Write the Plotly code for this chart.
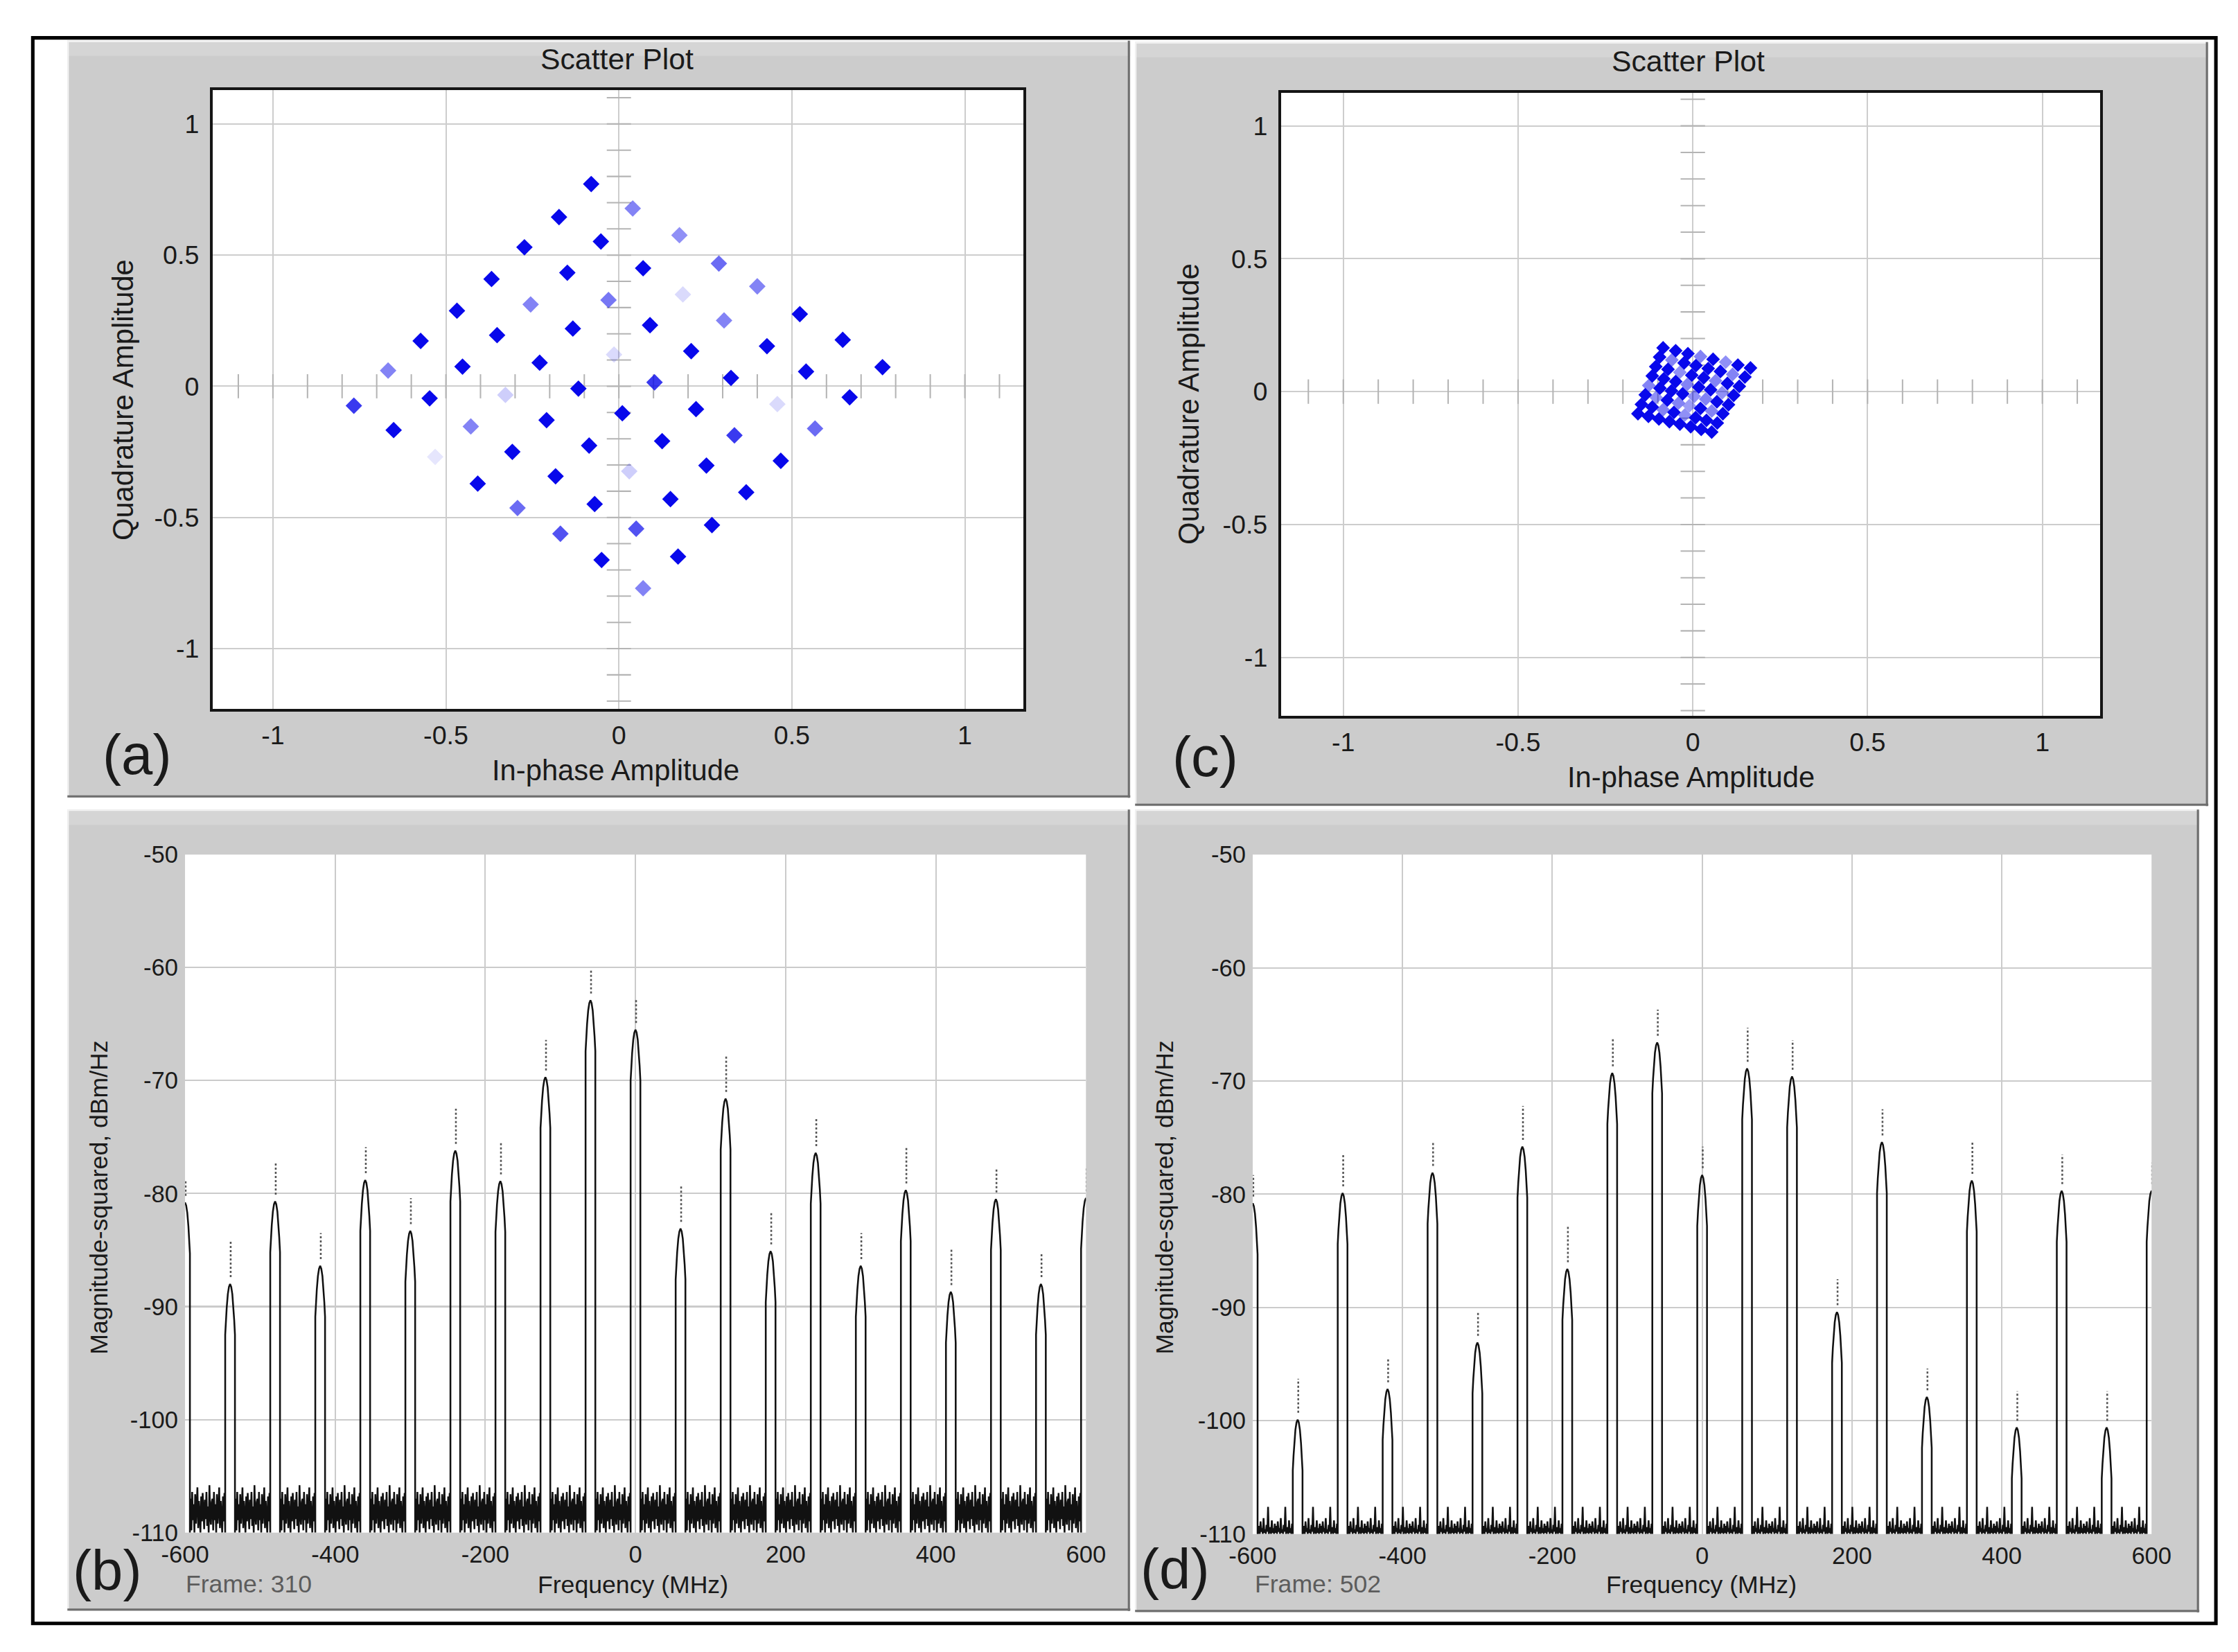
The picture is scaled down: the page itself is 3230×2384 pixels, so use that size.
import numpy as np
import plotly.graph_objects as go

W, H = 3230, 2384
FONT = "Liberation Sans, Arial, sans-serif"

# ---------------- data: scatter plot (a) ----------------
a_inphase = [-0.080, 0.040, 0.175, 0.289, 0.400, 0.523, 0.647, 0.762,
             -0.173, -0.052, 0.070, 0.185, 0.304, 0.428, 0.541, 0.667,
             -0.273, -0.149, -0.030, 0.090, 0.209, 0.324, 0.458, 0.567,
             -0.368, -0.255, -0.133, -0.014, 0.103, 0.223, 0.334, 0.468,
             -0.468, -0.352, -0.229, -0.117, 0.010, 0.125, 0.253, 0.368,
             -0.573, -0.452, -0.328, -0.209, -0.086, 0.030, 0.149, 0.269,
             -0.667, -0.547, -0.428, -0.308, -0.183, -0.070, 0.050, 0.171,
             -0.766, -0.651, -0.531, -0.408, -0.293, -0.169, -0.050, 0.070]
a_quad = [0.771, 0.678, 0.576, 0.468, 0.381, 0.275, 0.177, 0.073,
          0.645, 0.552, 0.450, 0.350, 0.251, 0.153, 0.056, -0.042,
          0.530, 0.433, 0.329, 0.233, 0.134, 0.032, -0.068, -0.161,
          0.409, 0.312, 0.220, 0.121, 0.015, -0.087, -0.187, -0.284,
          0.288, 0.195, 0.090, -0.009, -0.103, -0.209, -0.302, -0.404,
          0.173, 0.075, -0.033, -0.129, -0.226, -0.324, -0.430, -0.529,
          0.060, -0.046, -0.153, -0.250, -0.343, -0.449, -0.543, -0.649,
          -0.074, -0.167, -0.269, -0.371, -0.464, -0.562, -0.662, -0.770]
a_shade = [1, 0.5, 0.45, 0.6, 0.5, 1, 1, 1,
           1, 1, 1, 0.15, 0.5, 1, 1, 1,
           1, 1, 0.55, 1, 1, 1, 0.15, 0.6,
           1, 0.5, 1, 0.15, 0.8, 1, 0.8, 1,
           1, 1, 1, 1, 1, 1, 1, 1,
           1, 1, 0.2, 1, 1, 0.2, 1, 1,
           0.5, 1, 0.5, 1, 1, 1, 0.7, 1,
           0.8, 1, 0.1, 1, 0.6, 0.7, 1, 0.5]

# ---------------- data: scatter plot (c) ----------------
c_inphase = [-0.085, -0.049, -0.014, 0.022, 0.058, 0.094, 0.129, 0.165,
             -0.095, -0.060, -0.025, 0.009, 0.044, 0.079, 0.114, 0.149,
             -0.106, -0.071, -0.037, -0.003, 0.031, 0.065, 0.099, 0.133,
             -0.116, -0.083, -0.049, -0.016, 0.017, 0.051, 0.084, 0.117,
             -0.126, -0.094, -0.061, -0.029, 0.004, 0.037, 0.069, 0.102,
             -0.136, -0.105, -0.073, -0.041, -0.010, 0.022, 0.054, 0.086,
             -0.147, -0.116, -0.085, -0.054, -0.023, 0.008, 0.039, 0.070,
             -0.157, -0.127, -0.097, -0.067, -0.037, -0.006, 0.024, 0.054]
c_quad = [0.165, 0.154, 0.143, 0.132, 0.122, 0.111, 0.100, 0.089,
          0.130, 0.119, 0.108, 0.098, 0.087, 0.076, 0.065, 0.055,
          0.094, 0.084, 0.073, 0.062, 0.052, 0.041, 0.031, 0.020,
          0.059, 0.048, 0.038, 0.027, 0.017, 0.007, -0.004, -0.014,
          0.023, 0.013, 0.003, -0.008, -0.018, -0.028, -0.038, -0.049,
          -0.012, -0.022, -0.032, -0.043, -0.053, -0.063, -0.073, -0.083,
          -0.048, -0.058, -0.068, -0.078, -0.088, -0.098, -0.108, -0.118,
          -0.083, -0.093, -0.103, -0.113, -0.122, -0.132, -0.142, -0.152]
c_shade = [1, 1, 1, 0.5, 1, 0.45, 1, 1,
           1, 0.5, 1, 1, 1, 1, 0.5, 1,
           1, 1, 0.45, 1, 1, 0.5, 1, 1,
           1, 1, 1, 0.5, 1, 1, 0.45, 1,
           0.5, 1, 1, 1, 0.45, 0.5, 1, 1,
           1, 0.45, 1, 0.5, 0.4, 1, 0.5, 1,
           1, 1, 0.5, 1, 0.45, 1, 1, 1,
           1, 1, 1, 1, 1, 1, 1, 1]

scatter_ticks = [-1, -0.5, 0, 0.5, 1]
scatter_ticktext = ["-1", "-0.5", "0", "0.5", "1"]

# ---------------- data: spectra (b) and (d) ----------------
tone_freq = [-600, -540, -480, -420, -360, -300, -240, -180, -120, -60, 0,
             60, 120, 180, 240, 300, 360, 420, 480, 540, 600]
peak_b = [-80.8, -88.0, -80.7, -86.4, -78.8, -83.3, -76.2, -78.9, -69.7, -62.9, -65.5,
          -83.1, -71.6, -85.1, -76.4, -86.4, -79.7, -88.7, -80.5, -88.0, -80.4]
hold_b = [-78.8, -84.2, -77.2, -83.5, -75.9, -80.4, -72.5, -75.4, -66.4, -60.1, -62.8,
          -79.3, -67.8, -81.7, -73.4, -83.5, -75.9, -84.9, -77.7, -85.3, -77.7]
peak_d = [-80.8, -99.9, -79.9, -97.2, -78.1, -93.1, -75.8, -86.6, -69.3, -66.6, -78.3,
          -68.9, -69.6, -90.4, -75.4, -97.9, -78.8, -100.6, -79.7, -100.6, -79.7]
hold_d = [-78.3, -96.3, -76.5, -94.5, -75.4, -90.4, -72.2, -82.8, -66.2, -63.7, -75.8,
          -65.3, -66.4, -87.5, -72.5, -95.4, -75.4, -97.4, -76.5, -97.4, -77.2]
# noise-floor texture between tones (dBm/Hz)
noise_b = [-107.0, -109.8, -106.4, -108.9, -107.5, -110.0, -106.6, -109.2, -107.9, -106.0,
           -109.6, -107.2, -108.6, -110.0, -106.8, -109.0, -106.5, -108.3, -109.7, -107.1,
           -108.8, -106.4, -109.4, -107.7, -110.0, -105.8, -108.5, -109.3, -107.3]
noise_d = [-109.9, -109.3, -110.0, -108.9, -109.8, -109.5, -110.0, -108.6, -109.9, -109.6,
           -110.0, -109.2, -109.8, -107.6, -110.0, -109.7, -109.4, -110.0, -108.8, -109.9,
           -109.5, -110.0, -109.1]
# shape of one tone around its centre (MHz offset, dB below peak; None = floor)
profile_offset = [-6.5, -6.5, -5.5, -4.5, -3.0, -1.5, 0.0, 1.5, 3.0, 4.5, 5.5, 6.5, 6.5]
profile_drop = [None, 4.5, 3.2, 2.1, 0.9, 0.25, 0.0, 0.25, 0.9, 2.1, 3.2, 4.5, None]
FLOOR = -110.0

spec_yticks = [-50, -60, -70, -80, -90, -100, -110]
spec_yticktext = ["-50", "-60", "-70", "-80", "-90", "-100", "-110"]
spec_xticks = [-600, -400, -200, 0, 200, 400, 600]
spec_xticktext = ["-600", "-400", "-200", "0", "200", "400", "600"]

# ---- mapping from target-picture pixels to figure pixels (viewer framing) ----
SX, OX = 0.9815, 31.8
SY, OY = 0.9836, 18.5
BODY = 8
K = 1 / 0.9825


def fx(px):
    return (px - OX) / SX - BODY


def fy(py):
    return (py - OY) / SY - BODY


def px_x(v):
    return fx(v) / W


def px_y(v):
    return 1 - fy(v) / H


def build_spectrum(peaks, noise):
    xs, ys = [], []
    for i, (f, p) in enumerate(zip(tone_freq, peaks)):
        for off, drop in zip(profile_offset, profile_drop):
            xs.append(f + off)
            ys.append(FLOOR if drop is None else p - drop)
        if i < len(tone_freq) - 1:
            gx = np.arange(f + 7.5, tone_freq[i + 1] - 7.0, 1.0)
            gy = np.resize(np.array(noise), len(gx))
            xs.extend(gx.tolist())
            ys.extend(gy.tolist())
    return xs, ys


def build_hold(peaks, holds):
    xs, ys = [], []
    for f, p, m in zip(tone_freq, peaks, holds):
        xs += [f + 0.8, f + 0.8, None]
        ys += [p + 0.6, m, None]
    return xs, ys


fig = go.Figure()

# ---- zero-axis minor ticks for scatter plots ----
def zero_ticks(xref, yref):
    xs, ys = [], []
    for t in np.round(np.arange(-1.1, 1.101, 0.1), 2):
        xs += [t, t, None]
        ys += [-0.046, 0.046, None]
    for t in np.round(np.arange(-1.2, 1.101, 0.1), 2):
        xs += [-0.035, 0.035, None]
        ys += [t, t, None]
    fig.add_trace(go.Scatter(x=xs, y=ys, mode="lines", xaxis=xref, yaxis=yref,
                             line=dict(color="#b4b4b4", width=2 * K),
                             hoverinfo="skip", showlegend=False))

zero_ticks("x", "y")
zero_ticks("x2", "y2")

fig.add_trace(go.Scatter(x=a_inphase, y=a_quad, mode="markers", xaxis="x", yaxis="y",
                         marker=dict(symbol="diamond", size=18 * K, color="rgb(8,8,235)",
                                     opacity=a_shade, line=dict(width=0)),
                         showlegend=False, name="(a)"))
fig.add_trace(go.Scatter(x=c_inphase, y=c_quad, mode="markers", xaxis="x2", yaxis="y2",
                         marker=dict(symbol="diamond", size=15 * K, color="rgb(8,8,235)",
                                     opacity=c_shade, line=dict(width=0)),
                         showlegend=False, name="(c)"))

for peaks, holds, noise, xa, ya in [(peak_b, hold_b, noise_b, "x3", "y3"),
                                    (peak_d, hold_d, noise_d, "x4", "y4")]:
    sx, sy = build_spectrum(peaks, noise)
    fig.add_trace(go.Scatter(x=sx, y=sy, mode="lines", xaxis=xa, yaxis=ya,
                             line=dict(color="#111111", width=2.5 * K),
                             hoverinfo="skip", showlegend=False))
    hx, hy = build_hold(peaks, holds)
    fig.add_trace(go.Scatter(x=hx, y=hy, mode="lines", xaxis=xa, yaxis=ya,
                             line=dict(color="#555555", width=2.5 * K, dash="dot"),
                             hoverinfo="skip", showlegend=False))

# ---------------- axes ----------------
def scatter_axes(l, r, t, b, xr, yr):
    xa = dict(domain=[px_x(l), px_x(r)], range=xr, tickvals=scatter_ticks,
              ticktext=scatter_ticktext, showgrid=True, gridcolor="#cdcdcd", gridwidth=2 * K,
              zeroline=False, showline=True, mirror=True, linecolor="#151515", linewidth=4 * K,
              ticks="", ticklabelstandoff=2,
              tickfont=dict(family=FONT, size=37 * K, color="#1a1a1a"), fixedrange=True)
    ya = dict(domain=[px_y(b), px_y(t)], range=yr, tickvals=scatter_ticks,
              ticktext=scatter_ticktext, showgrid=True, gridcolor="#cdcdcd", gridwidth=2 * K,
              zeroline=False, showline=True, mirror=True, linecolor="#151515", linewidth=4 * K,
              ticks="", ticklabelstandoff=8,
              tickfont=dict(family=FONT, size=37 * K, color="#1a1a1a"), fixedrange=True)
    return xa, ya


def spectrum_axes(l, r, t, b):
    xa = dict(domain=[px_x(l), px_x(r)], range=[-600, 600], tickvals=spec_xticks,
              ticktext=spec_xticktext, showgrid=True, gridcolor="#cbcbcb", gridwidth=2 * K,
              zeroline=False, showline=False, ticks="", ticklabelstandoff=8,
              tickfont=dict(family=FONT, size=34 * K, color="#1a1a1a"), fixedrange=True)
    ya = dict(domain=[px_y(b), px_y(t)], range=[-110, -50], tickvals=spec_yticks,
              ticktext=spec_yticktext, showgrid=True, gridcolor="#cbcbcb", gridwidth=2 * K,
              zeroline=False, showline=False, ticks="", ticklabelstandoff=9,
              tickfont=dict(family=FONT, size=34 * K, color="#1a1a1a"), fixedrange=True)
    return xa, ya


plot_boxes = [(304, 129, 1476, 1022), (1848, 133, 3032, 1032),
              (264, 1232, 1566, 2210), (1807, 1232, 3106, 2212)]
xa1, ya1 = scatter_axes(304, 1476, 129, 1022, [-1.174, 1.170], [-1.23, 1.13])
xa2, ya2 = scatter_axes(1848, 3032, 133, 1032, [-1.178, 1.166], [-1.22, 1.125])
xa3, ya3 = spectrum_axes(264, 1566, 1232, 2210)
xa4, ya4 = spectrum_axes(1807, 3106, 1232, 2212)

layout_axes = {}
for n, (xa, ya) in enumerate([(xa1, ya1), (xa2, ya2), (xa3, ya3), (xa4, ya4)], start=1):
    sfx = "" if n == 1 else str(n)
    xa["anchor"] = "y" + sfx
    ya["anchor"] = "x" + sfx
    layout_axes["xaxis" + sfx] = xa
    layout_axes["yaxis" + sfx] = ya

# ---------------- panel backgrounds & frame ----------------
shapes = []
panels = [(94, 58, 1630, 1150), (1637, 60, 3188, 1162),
          (94, 1167, 1630, 2323), (1637, 1167, 3175, 2325)]
for (l, t, r, b) in panels:
    shapes.append(dict(type="rect", xref="paper", yref="paper", layer="below",
                       x0=px_x(l), x1=px_x(r), y0=px_y(b), y1=px_y(t),
                       fillcolor="#cccccc", line=dict(width=0)))
    shapes.append(dict(type="rect", xref="paper", yref="paper", layer="below",
                       x0=px_x(l), x1=px_x(r), y0=px_y(t + 22), y1=px_y(t),
                       fillcolor="#d5d5d5", line=dict(width=0)))
    shapes.append(dict(type="line", xref="paper", yref="paper", layer="below",
                       x0=px_x(l), x1=px_x(r), y0=px_y(t + 1), y1=px_y(t + 1),
                       line=dict(color="#f4f4f4", width=2 * K)))
    shapes.append(dict(type="line", xref="paper", yref="paper", layer="below",
                       x0=px_x(l + 1), x1=px_x(l + 1), y0=px_y(b), y1=px_y(t),
                       line=dict(color="#f4f4f4", width=2 * K)))
    shapes.append(dict(type="line", xref="paper", yref="paper", layer="below",
                       x0=px_x(r - 2), x1=px_x(r - 2), y0=px_y(b), y1=px_y(t),
                       line=dict(color="#6e6e6e", width=3 * K)))
    shapes.append(dict(type="line", xref="paper", yref="paper", layer="below",
                       x0=px_x(l), x1=px_x(r), y0=px_y(b - 2), y1=px_y(b - 2),
                       line=dict(color="#6e6e6e", width=3 * K)))
for (l, t, r, b) in plot_boxes:
    shapes.append(dict(type="rect", xref="paper", yref="paper", layer="below",
                       x0=px_x(l), x1=px_x(r), y0=px_y(b), y1=px_y(t),
                       fillcolor="white", line=dict(width=0)))
shapes.append(dict(type="rect", xref="paper", yref="paper", layer="above",
                   x0=px_x(44), x1=px_x(3199), y0=px_y(2341), y1=px_y(54),
                   line=dict(color="black", width=5 * K), fillcolor="rgba(0,0,0,0)"))

# ---------------- text ----------------
def txt(text, x, y, size, color="#1a1a1a", angle=0, xanchor="center"):
    return dict(text=text, x=px_x(x), y=px_y(y), xref="paper", yref="paper",
                showarrow=False, textangle=angle, xanchor=xanchor, yanchor="middle",
                font=dict(family=FONT, size=size * K, color=color))

annotations = [
    txt("Scatter Plot", 888, 84, 42),
    txt("In-phase Amplitude", 886, 1110, 41),
    txt("Quadrature Amplitude", 175, 576, 41, angle=-90),
    txt("(a)", 195, 1087, 80),
    txt("Scatter Plot", 2436, 87, 42),
    txt("In-phase Amplitude", 2440, 1120, 41),
    txt("Quadrature Amplitude", 1715, 582, 41, angle=-90),
    txt("(c)", 1738, 1090, 80),
    txt("Magnitude-squared, dBm/Hz", 140, 1727, 35, angle=-90),
    txt("Frequency (MHz)", 911, 2285, 35),
    txt("Frame: 310", 263, 2284, 35, color="#5c5c5c", xanchor="left"),
    txt("(b)", 152, 2264, 80),
    txt("Magnitude-squared, dBm/Hz", 1680, 1727, 35, angle=-90),
    txt("Frequency (MHz)", 2455, 2285, 35),
    txt("Frame: 502", 1808, 2284, 35, color="#5c5c5c", xanchor="left"),
    txt("(d)", 1695, 2262, 80),
]

fig.update_layout(
    width=W, height=H, autosize=False,
    margin=dict(l=0, r=0, t=0, b=0, pad=0),
    paper_bgcolor="white", plot_bgcolor="white",
    showlegend=False, hovermode=False,
    font=dict(family=FONT, color="#1a1a1a"),
    shapes=shapes, annotations=annotations,
    **layout_axes,
)

fig.write_html("out.html", config={"displayModeBar": False, "staticPlot": True})
